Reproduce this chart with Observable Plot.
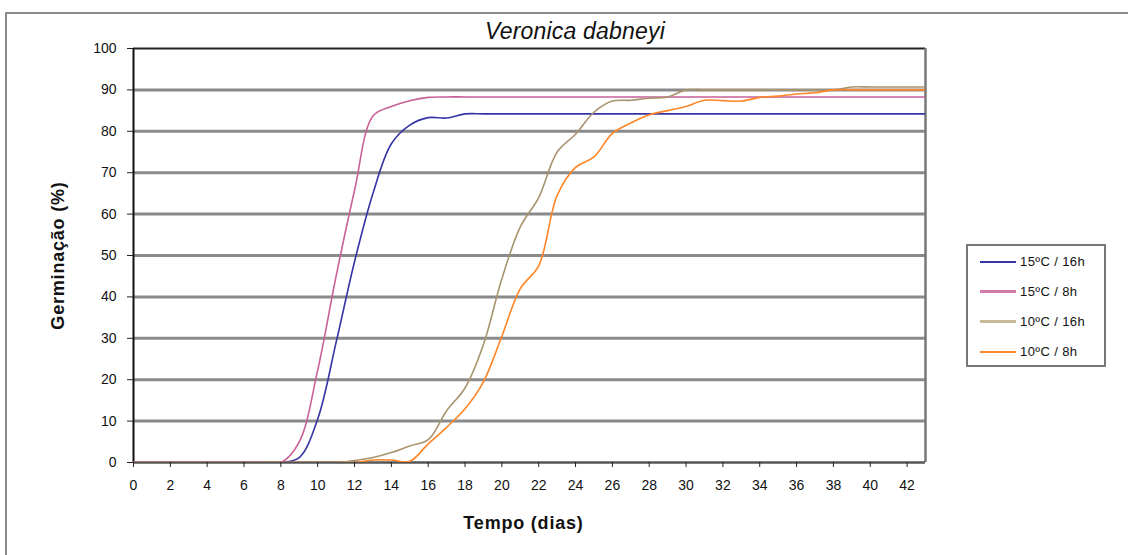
<!DOCTYPE html>
<html>
<head>
<meta charset="utf-8">
<script src="https://cdn.jsdelivr.net/npm/d3@7"></script>
<script src="https://cdn.jsdelivr.net/npm/@observablehq/plot@0.6"></script>
<style>
  body { margin: 0; background: #fff; font-family: "Liberation Sans", Arial, sans-serif; }
  #wrap { position: relative; width: 1128px; height: 555px; overflow: hidden; }
  #outer { position: absolute; left: 5px; top: 12px; width: 1140px; height: 560px; border-top: 2px solid #8a8a8a; border-left: 2px solid #8a8a8a; }
  #title { position: absolute; left: 0; width: 1150px; top: 18px; text-align: center; font-style: italic; font-size: 23px; letter-spacing: 0.2px; color: #111; }
  #legend { position: absolute; left: 966px; top: 244px; width: 136px; height: 119px; border: 2px solid #777; background: #fff; }
  .lg { position: absolute; left: 12px; font-size: 13px; letter-spacing: 0.4px; color: #111; display: flex; align-items: center; }
  .lg span.sw { display: inline-block; width: 36px; height: 0; margin-right: 4px; }
  #chart { position: absolute; left: 0; top: 0; }
  #chart svg [aria-label="y-axis label"] text, #chart svg [aria-label="x-axis label"] text { font-weight: bold; font-size: 18px; letter-spacing: 0.8px; }
</style>
</head>
<body>
<div id="wrap">
  <div id="outer"></div>
  <div id="chart"></div>
  <div id="title">Veronica dabneyi</div>
  <div id="legend"></div>
</div>
<script>
const days = d3.range(0, 44);
const seriesNames = ["15ºC / 16h", "15ºC / 8h", "10ºC / 16h", "10ºC / 8h"];
const seriesColors = ["#3535a5", "#c8609a", "#a8946e", "#ff8526"];
const legendColors = ["#3535a5", "#d57aa8", "#c9b996", "#ff8526"];

const blue = [0,0,0,0,0,0,0,0,0,1.2,10.5,29,48.5,65,77,81.5,83.3,83.2,84.2,84.2,84.2,84.2,84.2,84.2,84.2,84.2,84.2,84.2,84.2,84.2,84.2,84.2,84.2,84.2,84.2,84.2,84.2,84.2,84.2,84.2,84.2,84.2,84.2,84.2];
const pink = [0,0,0,0,0,0,0,0,0,5,22.3,45,65.7,83.7,86,87.4,88.2,88.3,88.3,88.3,88.3,88.3,88.3,88.3,88.3,88.3,88.3,88.3,88.3,88.3,88.3,88.3,88.3,88.3,88.3,88.3,88.3,88.3,88.3,88.3,88.3,88.3,88.3,88.3];
const tan = [0,0,0,0,0,0,0,0,0,0,0,0,0.5,1.2,2.4,4,5.5,12.5,18,28.5,44.4,56.9,64,75,79.3,84.6,87.3,87.5,88,88.3,90,90,90,90,90,90,90,90,90,90.7,90.7,90.7,90.7,90.7];
const orange = [0,0,0,0,0,0,0,0,0,0,0,0,0,0.6,0.6,0.3,4.5,8.5,13,19.5,30.5,42,47.5,64.5,71.3,73.8,79.5,82,84,85,86,87.5,87.4,87.3,88.2,88.5,89,89.3,90,90,90,90,90,90];
const seriesValues = [blue, pink, tan, orange];

const yTicks = d3.range(0, 101, 10);
const xTicks = d3.range(0, 43, 2);
const gridLines = d3.range(10, 91, 10);

const data = [];
seriesNames.forEach((name, i) => {
  days.forEach((d, j) => data.push({series: name, day: d, value: seriesValues[i][j]}));
});

const chart = Plot.plot({
  width: 1128,
  height: 555,
  marginLeft: 133,
  marginRight: 203,
  marginTop: 48,
  marginBottom: 93,
  style: {fontFamily: "Liberation Sans, Arial, sans-serif", fontSize: "14px", color: "#111", background: "transparent", overflow: "visible"},
  x: {domain: [0, 43]},
  y: {domain: [0, 100]},
  color: {domain: seriesNames, range: seriesColors},
  marks: [
    Plot.ruleY(gridLines, {stroke: "#8a8a8a", strokeWidth: 3}),
    Plot.ruleY([100], {stroke: "#222", strokeWidth: 2}),
    Plot.ruleX([43], {stroke: "#777", strokeWidth: 2.5}),
    Plot.ruleY([0], {stroke: "#555", strokeWidth: 2.5}),
    Plot.ruleX([0], {stroke: "#111", strokeWidth: 2}),
    Plot.line(data, {x: "day", y: "value", z: "series", stroke: "series", strokeWidth: 1.6, curve: "catmull-rom", clip: true}),
    Plot.axisY({ticks: yTicks, tickSize: 6, tickPadding: 11, stroke: "#222", label: "Germinação (%)", labelAnchor: "center", labelArrow: "none", labelOffset: 82}),
    Plot.axisX({ticks: xTicks, tickSize: 5, tickPadding: 13, stroke: "#222", label: "Tempo (dias)", labelAnchor: "center", labelArrow: "none", labelOffset: 66})
  ]
});
d3.select(chart).select('[aria-label="x-axis label"] text').attr("dx", -6);
document.getElementById("chart").appendChild(chart);

const legend = document.getElementById("legend");
seriesNames.forEach((name, i) => {
  const row = document.createElement("div");
  row.className = "lg";
  row.style.top = (8 + i * 30) + "px";
  const sw = document.createElement("span");
  sw.className = "sw";
  sw.style.borderTop = (i === 0 || i === 3 ? 2 : 3) + "px solid " + legendColors[i];
  row.appendChild(sw);
  const t = document.createElement("span");
  t.textContent = name;
  row.appendChild(t);
  legend.appendChild(row);
});
</script>
</body>
</html>
